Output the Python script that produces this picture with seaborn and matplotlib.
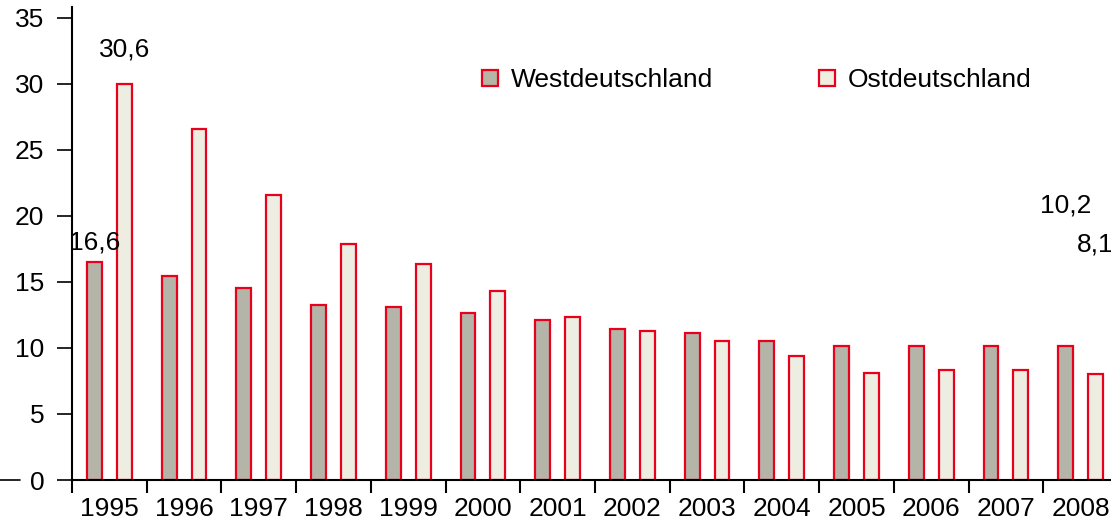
import pandas as pd
import matplotlib.pyplot as plt
import seaborn as sns
from matplotlib.lines import Line2D
from matplotlib.patches import Patch

# Data
years = ["1995", "1996", "1997", "1998", "1999", "2000", "2001",
         "2002", "2003", "2004", "2005", "2006", "2007", "2008"]
west = [16.5, 15.45, 14.55, 13.25, 13.1, 12.65, 12.1,
        11.45, 11.15, 10.55, 10.15, 10.15, 10.15, 10.15]
east = [30.0, 26.6, 21.6, 17.9, 16.35, 14.3, 12.35,
        11.3, 10.5, 9.4, 8.1, 8.3, 8.3, 8.05]
series = ["Westdeutschland", "Ostdeutschland"]

# value labels: (year index, series, text, label height)
labels = [(0, 0, "16,6", 17.95), (0, 1, "30,6", 32.6),
          (13, 0, "10,2", 20.8), (13, 1, "8,1", 17.8)]

colors = {"Westdeutschland": "#b6b6a6", "Ostdeutschland": "#f0efdf"}
edge = "#e8001c"

df = pd.DataFrame({
    "Jahr": years * 2,
    "Wert": west + east,
    "Region": [series[0]] * len(years) + [series[1]] * len(years),
})

sns.set_style("white")
plt.rcParams["font.family"] = ["Liberation Sans", "DejaVu Sans"]
plt.rcParams["font.size"] = 19
plt.rcParams["text.color"] = "black"
plt.rcParams["xtick.color"] = "black"
plt.rcParams["ytick.color"] = "black"

fig = plt.figure(figsize=(11.11, 5.21), dpi=100)
ax = fig.add_axes([72 / 1111, 41 / 521, 1046 / 1111, 473 / 521])

sns.barplot(data=df, x="Jahr", y="Wert", hue="Region", palette=colors,
            width=0.8, gap=0.5, edgecolor=edge, linewidth=1.6,
            errorbar=None, legend=False, ax=ax)

ax.set_xlim(-0.5, len(years) - 0.5)
ax.set_ylim(0, 35.8)
ax.set_yticks(range(0, 36, 5))
ax.set_xlabel("")
ax.set_ylabel("")

for side in ["top", "right"]:
    ax.spines[side].set_visible(False)
for side in ["left", "bottom"]:
    ax.spines[side].set_color("black")
    ax.spines[side].set_linewidth(1.5)

ax.tick_params(axis="y", which="major", length=11, width=1.2, pad=9,
               direction="out", left=True, labelsize=19)
ax.tick_params(axis="x", which="major", length=0, pad=12, labelsize=19)
ax.set_xticks([i - 0.5 for i in range(len(years) + 1)], minor=True)
ax.tick_params(axis="x", which="minor", length=9, width=1.5,
               direction="out", bottom=True)

# short dash left of the zero label
fig.add_artist(Line2D([0, 20 / 1111], [41 / 521, 41 / 521],
                      color="black", lw=1.2))

for i, s, txt, y in labels:
    x = i + (-0.2 if s == 0 else 0.2)
    ax.text(x, y, txt, ha="center", va="center", fontsize=19,
            clip_on=False)

handles = [Patch(facecolor=colors[r], edgecolor=edge, linewidth=1.6)
           for r in series]
ax.legend(handles, series, loc="upper left",
          bbox_to_anchor=(469 / 1111, 1 - 55 / 521),
          bbox_transform=fig.transFigure, ncol=2, frameon=False,
          handlelength=0.6, handleheight=0.6, handletextpad=0.5,
          columnspacing=4.0, fontsize=19, borderpad=0)

fig.savefig("out.png", dpi=100)
